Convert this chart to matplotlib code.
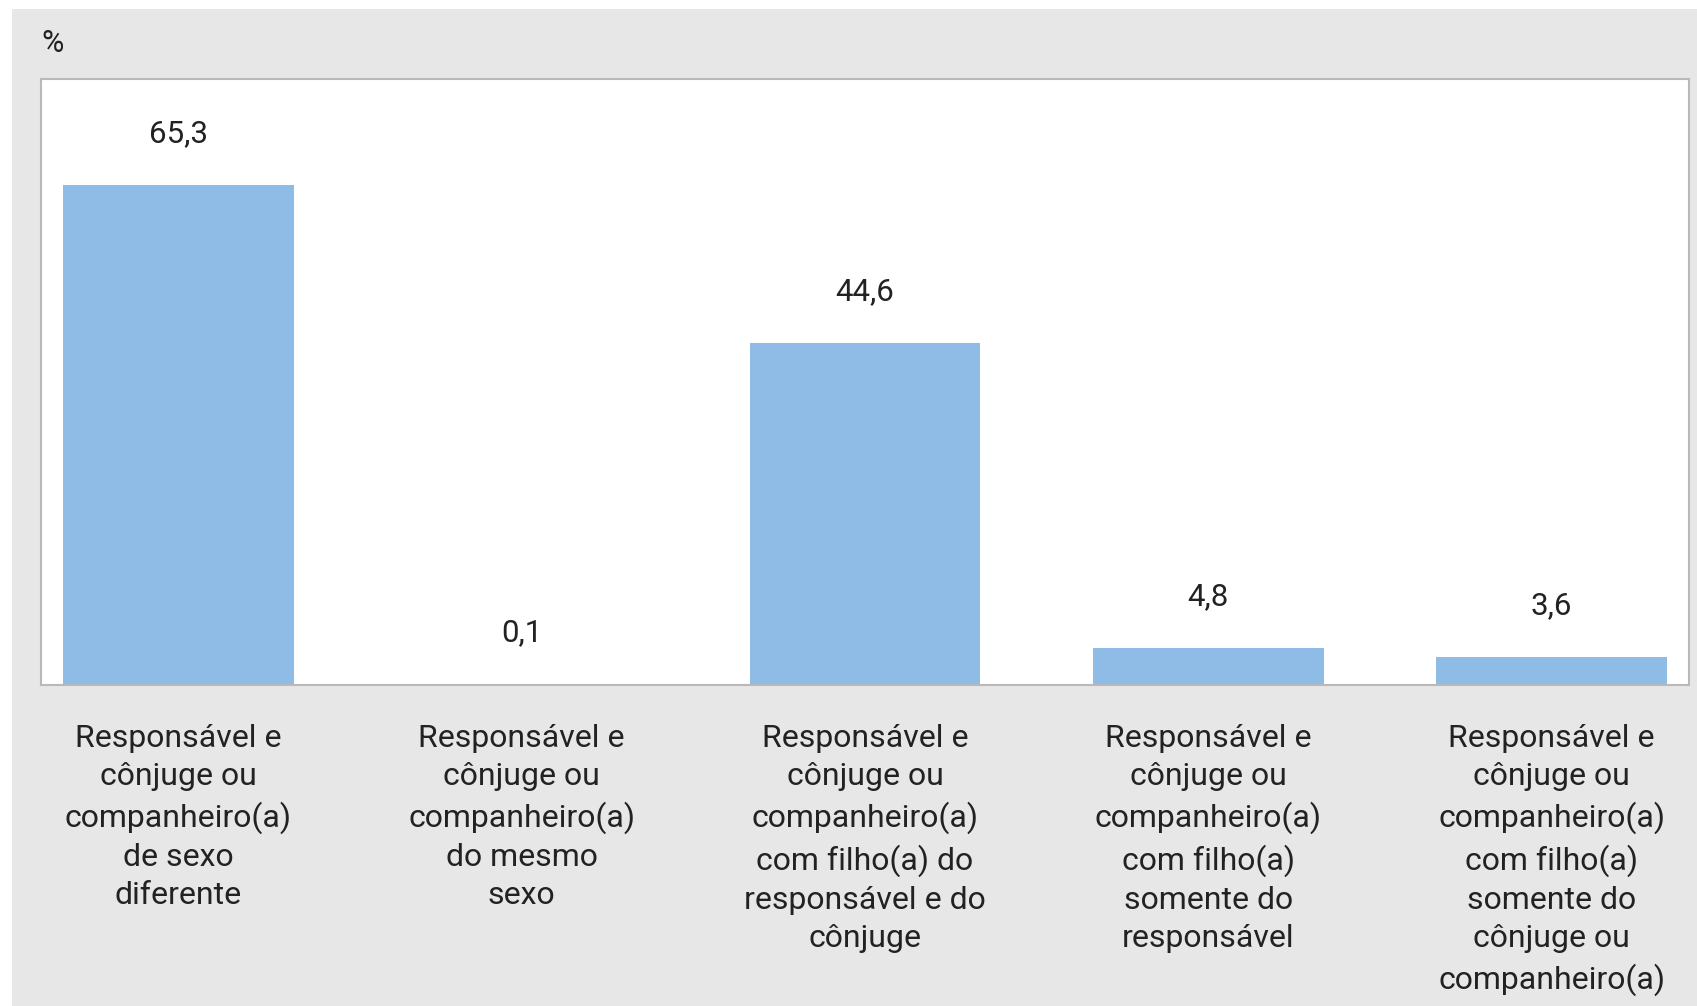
import matplotlib.pyplot as plt
from matplotlib.patches import Rectangle

plt.rcParams['font.family'] = ['Roboto', 'DejaVu Sans']

categorias = [
    "Responsável e\ncônjuge ou\ncompanheiro(a)\nde sexo\ndiferente",
    "Responsável e\ncônjuge ou\ncompanheiro(a)\ndo mesmo\nsexo",
    "Responsável e\ncônjuge ou\ncompanheiro(a)\ncom filho(a) do\nresponsável e do\ncônjuge",
    "Responsável e\ncônjuge ou\ncompanheiro(a)\ncom filho(a)\nsomente do\nresponsável",
    "Responsável e\ncônjuge ou\ncompanheiro(a)\ncom filho(a)\nsomente do\ncônjuge ou\ncompanheiro(a)",
]
valores = [65.3, 0.1, 44.6, 4.8, 3.6]
rotulos = ["65,3", "0,1", "44,6", "4,8", "3,6"]

cor_barra = "#8fbce6"
cor_texto = "#222222"
cor_fundo = "#e6e7e6"

fig = plt.figure(figsize=(16.97, 10.06), dpi=100)
fig.patches.append(Rectangle((12 / 1697, 0), 1 - 12 / 1697, 1 - 9 / 1006,
                             transform=fig.transFigure, facecolor=cor_fundo,
                             edgecolor="none", zorder=-10))

ax = fig.add_axes([41 / 1697, 321 / 1006, 1648 / 1697, 606 / 1006])
ax.set_facecolor("white")

x = range(len(valores))
ax.bar(x, valores, width=0.672, color=cor_barra, zorder=2)

for xi, v, r in zip(x, valores, rotulos):
    ax.annotate(r, (xi, v), xytext=(0, 37), textcoords="offset points",
                ha="center", va="center", fontsize=22.5, color=cor_texto)

ax.set_xlim(-0.4, 4.4)
ax.set_ylim(0, 79.1)
ax.set_yticks([])
ax.set_xticks(list(x))
ax.set_xticklabels(categorias, fontsize=23, color=cor_texto, linespacing=1.40,
                   va="top", ha="center")
ax.tick_params(axis="x", length=0, pad=28)

for s in ax.spines.values():
    s.set_color("#b9b9b9")
    s.set_linewidth(1.5)

fig.text(41 / 1697, 1 - 44 / 1006, "%", fontsize=22, color=cor_texto,
         ha="left", va="center")

fig.savefig("out.png", dpi=100)
